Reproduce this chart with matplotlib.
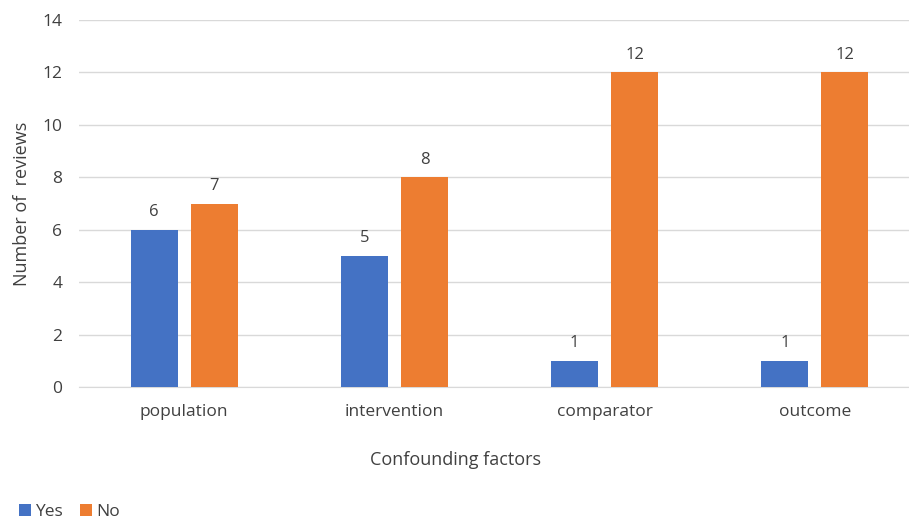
import matplotlib
matplotlib.use("Agg")
import matplotlib.pyplot as plt
import numpy as np

categories = ["population", "intervention", "comparator", "outcome"]
yes_counts = [6, 5, 1, 1]
no_counts = [7, 8, 12, 12]
series_names = ["Yes", "No"]
colors = ["#4472C4", "#ED7D31"]

plt.rcParams["font.family"] = ["Open Sans", "DejaVu Sans"]
text_color = "#404040"

fig = plt.figure(figsize=(9.09, 5.2), dpi=100)
ax = fig.add_axes([79 / 909, 133 / 520, 1 - 79 / 909 + 11 / 909, 367 / 520])

x = np.arange(len(categories))
width = 0.224
offset = 0.143
bars_yes = ax.bar(x - offset, yes_counts, width, color=colors[0], label=series_names[0], zorder=3)
bars_no = ax.bar(x + offset, no_counts, width, color=colors[1], label=series_names[1], zorder=3)

for bars in (bars_yes, bars_no):
    for b in bars:
        ax.annotate(f"{int(b.get_height())}", (b.get_x() + b.get_width() / 2, b.get_height()),
                    xytext=(0, 7), textcoords="offset points", ha="center", va="bottom",
                    fontsize=12, color=text_color)

ax.set_xlim(-0.5, 3.5)
ax.set_ylim(0, 14)
ax.set_yticks(range(0, 15, 2))
ax.set_xticks(x)
ax.set_xticklabels(categories)
ax.tick_params(axis="both", length=0, labelsize=12.5, colors=text_color)
ax.tick_params(axis="x", pad=12)
ax.tick_params(axis="y", pad=12)
ax.grid(axis="y", color="#D9D9D9", linewidth=1, zorder=0)
for s in ["top", "right", "left"]:
    ax.spines[s].set_visible(False)
ax.spines["bottom"].set_color("#D9D9D9")

ax.set_ylabel("Number of  reviews", fontsize=13, color=text_color, labelpad=8)
fig.text(455 / 909, 1 - 460 / 520, "Confounding factors", ha="center", va="center",
         fontsize=13, color=text_color)

fig.legend(handles=[bars_yes, bars_no], labels=series_names, loc="center left",
           bbox_to_anchor=(3 / 909, 1 - 512 / 520), ncol=2, frameon=False, fontsize=12.5,
           handlelength=0.7, handleheight=0.7, handletextpad=0.25, columnspacing=1.0,
           labelcolor=text_color)

fig.savefig("out.png", dpi=100)
